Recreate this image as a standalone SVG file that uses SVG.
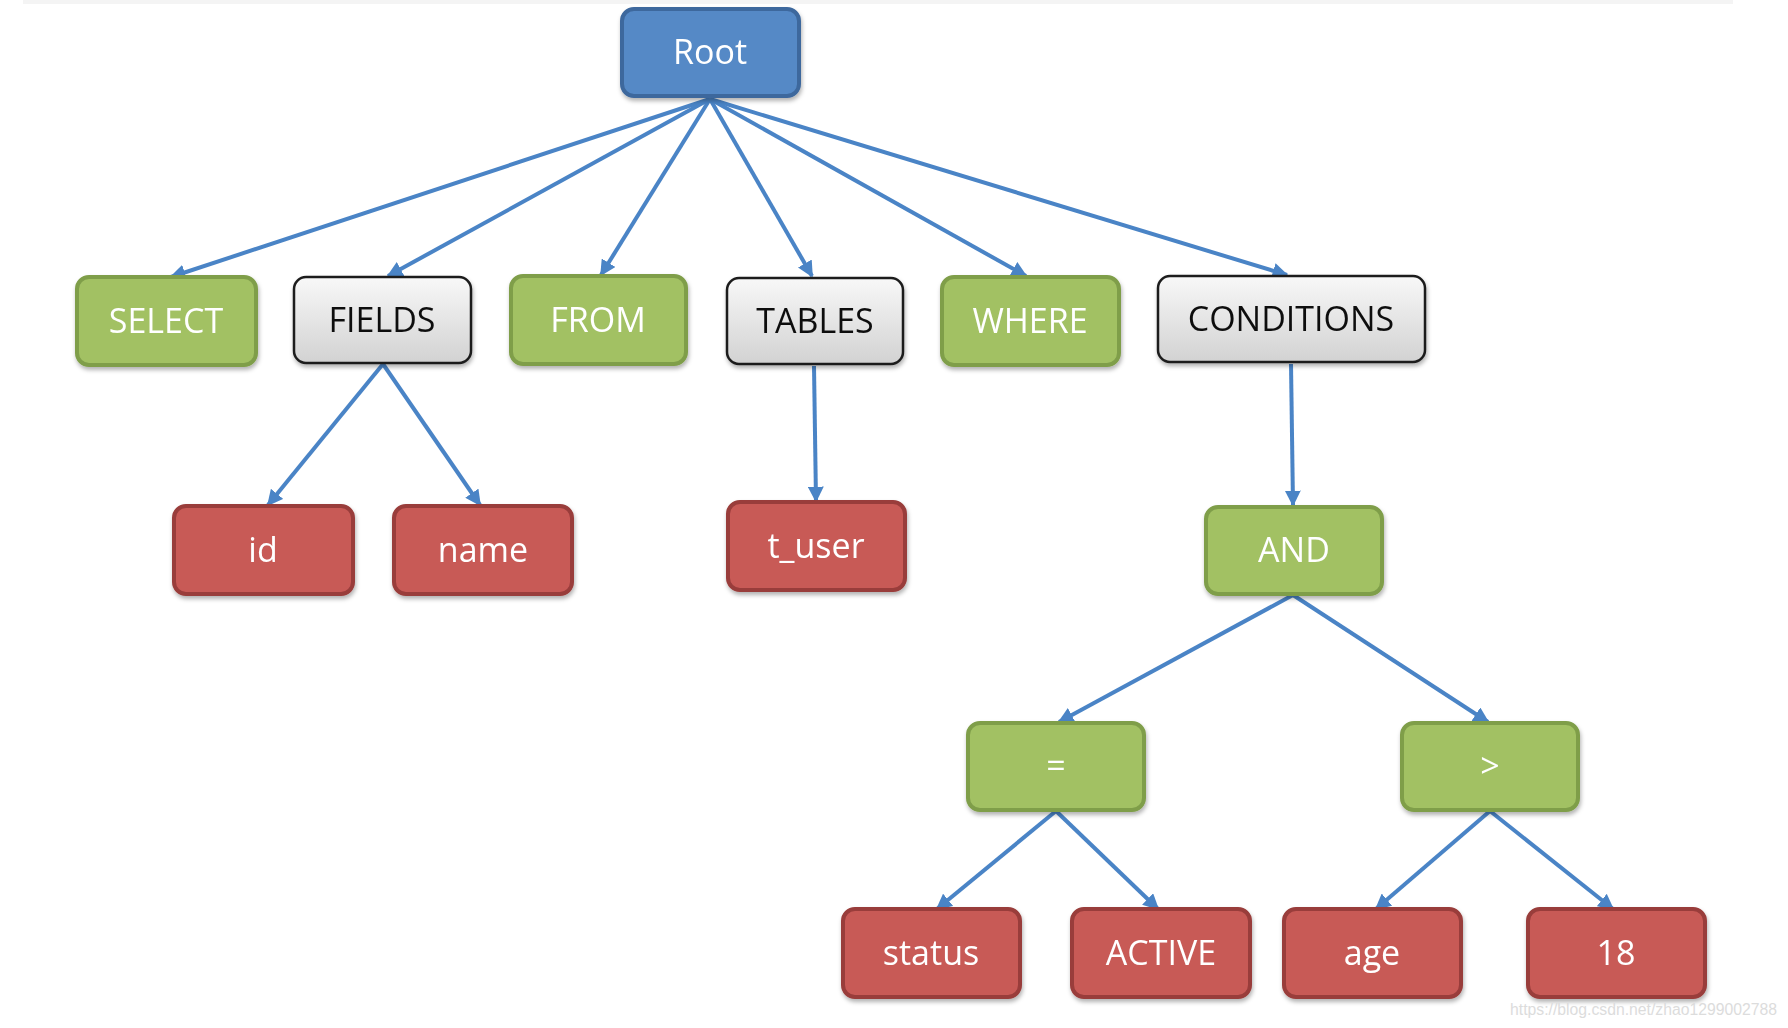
<svg xmlns="http://www.w3.org/2000/svg" width="1788" height="1028" viewBox="0 0 1788 1028">
<style>
.n rect{stroke-width:4}
.blue rect{fill:#5589c6;stroke:#3e689d}
.green rect{fill:#a2c163;stroke:#7f9e4a}
.red rect{fill:#c85a57;stroke:#993d3b}
.gray rect{fill:url(#gg);stroke:#1e1e1e;stroke-width:2.5}
.n text{font-family:"Open Sans","Noto Sans",sans-serif;font-size:34px;text-anchor:middle;fill:#fff}
.gray text{fill:#111}
.e line{stroke:#4a84c6;stroke-width:4;marker-end:url(#ah)}
.wm{font-family:"Liberation Sans",Arial,sans-serif;font-size:16px;fill:#dcdcdc}
</style>
<defs>
<linearGradient id="gg" x1="0" y1="0" x2="0" y2="1"><stop offset="0" stop-color="#f8f8f8"/><stop offset="1" stop-color="#d2d2d2"/></linearGradient>
<marker id="ah" viewBox="0 0 10 10" refX="9" refY="5" markerWidth="4" markerHeight="4" orient="auto" markerUnits="strokeWidth"><path d="M0,0 L10,5 L0,10 z" fill="#4a84c6"/></marker>
<filter id="sh" x="-10%" y="-10%" width="130%" height="140%"><feDropShadow dx="1" dy="3" stdDeviation="2" flood-color="#000" flood-opacity="0.3"/></filter>
</defs>
<rect width="1788" height="1028" fill="#fff"/>
<rect x="23" y="0" width="1710" height="4" fill="#f4f4f4"/>
<g class="e">
<line x1="710" y1="99" x2="171" y2="277"/>
<line x1="710" y1="99" x2="388" y2="276"/>
<line x1="710" y1="99" x2="601" y2="275"/>
<line x1="710" y1="99" x2="812" y2="276"/>
<line x1="710" y1="99" x2="1026" y2="276"/>
<line x1="710" y1="99" x2="1287" y2="275"/>
<line x1="383" y1="364" x2="268" y2="505"/>
<line x1="383" y1="364" x2="480" y2="505"/>
<line x1="814" y1="366" x2="816" y2="501"/>
<line x1="1291" y1="364" x2="1293" y2="505"/>
<line x1="1293" y1="595" x2="1059" y2="722"/>
<line x1="1293" y1="595" x2="1488" y2="722"/>
<line x1="1056" y1="811" x2="937" y2="909"/>
<line x1="1056" y1="811" x2="1158" y2="909"/>
<line x1="1490" y1="811" x2="1376" y2="909"/>
<line x1="1490" y1="811" x2="1613" y2="909"/>
</g>
<g id="root" class="n blue" filter="url(#sh)"><rect x="622" y="9" width="177" height="87" rx="12"/><text x="710" y="64">Root</text></g>
<g id="select" class="n green" filter="url(#sh)"><rect x="77" y="277" width="179" height="88" rx="12"/><text x="166" y="333">SELECT</text></g>
<g id="fields" class="n gray" filter="url(#sh)"><rect x="294" y="277" width="177" height="86" rx="12"/><text x="382" y="332">FIELDS</text></g>
<g id="from" class="n green" filter="url(#sh)"><rect x="511" y="276" width="175" height="88" rx="12"/><text x="598" y="332">FROM</text></g>
<g id="tables" class="n gray" filter="url(#sh)"><rect x="727" y="278" width="176" height="86" rx="12"/><text x="815" y="333">TABLES</text></g>
<g id="where" class="n green" filter="url(#sh)"><rect x="942" y="277" width="177" height="88" rx="12"/><text x="1030" y="333">WHERE</text></g>
<g id="conditions" class="n gray" filter="url(#sh)"><rect x="1158" y="276" width="267" height="86" rx="12"/><text x="1291" y="331">CONDITIONS</text></g>
<g id="id" class="n red" filter="url(#sh)"><rect x="174" y="506" width="179" height="88" rx="12"/><text x="263" y="562">id</text></g>
<g id="name" class="n red" filter="url(#sh)"><rect x="394" y="506" width="178" height="88" rx="12"/><text x="483" y="562">name</text></g>
<g id="t_user" class="n red" filter="url(#sh)"><rect x="728" y="502" width="177" height="88" rx="12"/><text x="816" y="558">t_user</text></g>
<g id="and" class="n green" filter="url(#sh)"><rect x="1206" y="507" width="176" height="87" rx="12"/><text x="1294" y="562">AND</text></g>
<g id="eq" class="n green" filter="url(#sh)"><rect x="968" y="723" width="176" height="87" rx="12"/><text x="1056" y="778">=</text></g>
<g id="gt" class="n green" filter="url(#sh)"><rect x="1402" y="723" width="176" height="87" rx="12"/><text x="1490" y="778">&gt;</text></g>
<g id="status" class="n red" filter="url(#sh)"><rect x="843" y="909" width="177" height="88" rx="12"/><text x="931" y="965">status</text></g>
<g id="active" class="n red" filter="url(#sh)"><rect x="1072" y="909" width="178" height="88" rx="12"/><text x="1161" y="965">ACTIVE</text></g>
<g id="age" class="n red" filter="url(#sh)"><rect x="1284" y="909" width="177" height="88" rx="12"/><text x="1372" y="965">age</text></g>
<g id="n18" class="n red" filter="url(#sh)"><rect x="1528" y="909" width="177" height="88" rx="12"/><text x="1616" y="965">18</text></g>
<text class="wm" x="1510" y="1015" textLength="267" lengthAdjust="spacingAndGlyphs">https://blog.csdn.net/zhao1299002788</text>
</svg>
